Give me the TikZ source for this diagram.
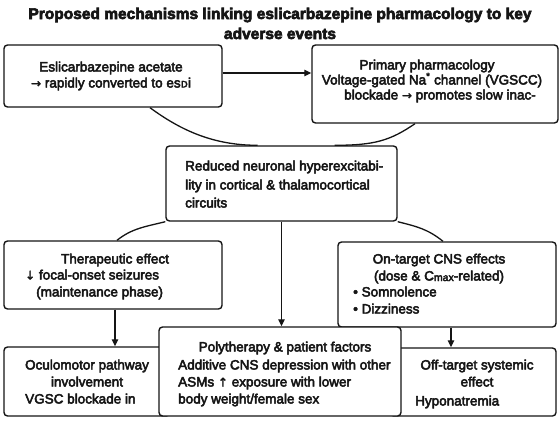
\documentclass[tikz,border=0pt]{standalone}
\usepackage{fontspec}
\setmainfont[FakeBold=3.5]{Liberation Sans}
\newfontfamily\ttlfont[FakeBold=4]{Liberation Sans Bold}
\newfontfamily\dvs[FakeBold=2]{DejaVu Sans}
\usetikzlibrary{arrows.meta}
\definecolor{ink}{HTML}{151515}
\newcommand{\ar}[1]{{\dvs\fontsize{12}{14}\selectfont #1}}
\begin{document}
\begin{tikzpicture}[x=1pt,y=-1pt,
  box/.style={draw=ink,line width=1.4pt,rounded corners=3.5pt,fill=white,inner sep=0pt},
  txt/.style={inner sep=0pt,text height=10pt,text depth=1pt,font=\fontsize{13.5}{16}\selectfont,text=ink},
  ttl/.style={inner sep=0pt,text height=11pt,text depth=1pt,font=\fontsize{15.5}{18}\selectfont\ttlfont,text=ink},
  conn/.style={draw=ink,line width=1.3pt},
  arr/.style={conn,-{Triangle[length=7pt,width=6.5pt]}}]
\useasboundingbox[fill=white] (0,0) rectangle (560,421);
% title
\node[ttl] (t1) at (280,14) {Proposed mechanisms linking eslicarbazepine pharmacology to key};
\node[ttl] (t2) at (280,34) {adverse events};
% boxes
\node[box,minimum width=218pt,minimum height=62pt] (A) at (113,76) {};
\node[box,minimum width=246pt,minimum height=78pt] (B) at (435,84) {};
\node[box,minimum width=231pt,minimum height=75pt] (C) at (281.5,183.5) {};
\node[box,minimum width=218pt,minimum height=68pt] (D) at (113,275) {};
\node[box,minimum width=218pt,minimum height=85pt] (G) at (447,284.5) {};
\node[box,minimum width=166pt,minimum height=69pt] (E) at (87,381.5) {};
\node[box,minimum width=166pt,minimum height=68pt] (H) at (473,382) {};
\node[box,minimum width=242pt,minimum height=89pt] (F) at (280,371.5) {};
% connectors
\draw[arr] ([yshift=3pt]A.east) -- ([yshift=3pt]A.east -| B.west);
\draw[conn] ([xshift=37pt]A.south) .. controls +(30,22) and +(-45,0) .. ([xshift=-24pt]C.north);
\draw[conn] ([xshift=-20pt]B.south) .. controls +(-25,17) and +(40,0) .. ([xshift=53pt]C.north);
\draw[conn] (C.south west) .. controls +(-20,5) and +(15,-12) .. ([xshift=4pt]D.north);
\draw[conn] (C.south east) .. controls +(20,5) and +(-15,-12) .. ([xshift=-4pt]G.north);
\draw[arr] (C.south) -- (C.south |- F.north);
\draw[arr] ([xshift=2pt]D.south) -- ([xshift=2pt]D.south |- E.north);
\draw[arr] ([xshift=4pt]G.south) -- ([xshift=4pt]G.south |- H.north);
% texts A
\node[txt] (a1) at (111,67) {Eslicarbazepine acetate};
\node[txt] (a2) at (111,83) {\ar{→} rapidly converted to es{\dvs\fontsize{12}{14}\selectfont ᴅ}i};
% B
\node[txt] (b1) at (427,65) {Primary pharmacology};
\node[txt] (b2) at (432,80) {Voltage-gated Na\textsuperscript{*} channel (VGSCC)};
\node[txt] (b3) at (440,95) {blockade \ar{→} promotes slow inac-};
% C
\node[txt,anchor=west] (c1) at (185,166) {Reduced neuronal hyperexcitabi-};
\node[txt,anchor=west] (c2) at (185,185) {lity in cortical \& thalamocortical};
\node[txt,anchor=west] (c3) at (185,203) {circuits};
% D
\node[txt] (d1) at (115,259) {Therapeutic effect};
\node[txt,anchor=west] (d2) at (25,275) {\ar{↓} focal-onset seizures};
\node[txt,anchor=west] (d3) at (36,292) {(maintenance phase)};
% G
\node[txt] (g1) at (439,259) {On-target CNS effects};
\node[txt] (g2) at (439,276) {(dose \& C\raisebox{-0.5pt}{\fontsize{10.5}{12}\selectfont max}-related)};
\node[txt,anchor=west] (g3) at (353,292) {• Somnolence};
\node[txt,anchor=west] (g4) at (353,309) {• Dizziness};
% E
\node[txt] (e1) at (87,365) {Oculomotor pathway};
\node[txt] (e2) at (87,382) {involvement};
\node[txt,anchor=west] (e3) at (25,399) {VGSC blockade in};
% F
\node[txt] (f1) at (285,347) {Polytherapy \& patient factors};
\node[txt,anchor=west] (f2) at (178,365) {Additive CNS depression with other};
\node[txt,anchor=west] (f3) at (178,382) {ASMs \ar{↑} exposure with lower};
\node[txt,anchor=west] (f4) at (178,399) {body weight/female sex};
% H
\node[txt] (h1) at (477,365) {Off-target systemic};
\node[txt] (h2) at (477,382) {effect};
\node[txt,anchor=west] (h3) at (415,401) {Hyponatremia};
\end{tikzpicture}
\end{document}
